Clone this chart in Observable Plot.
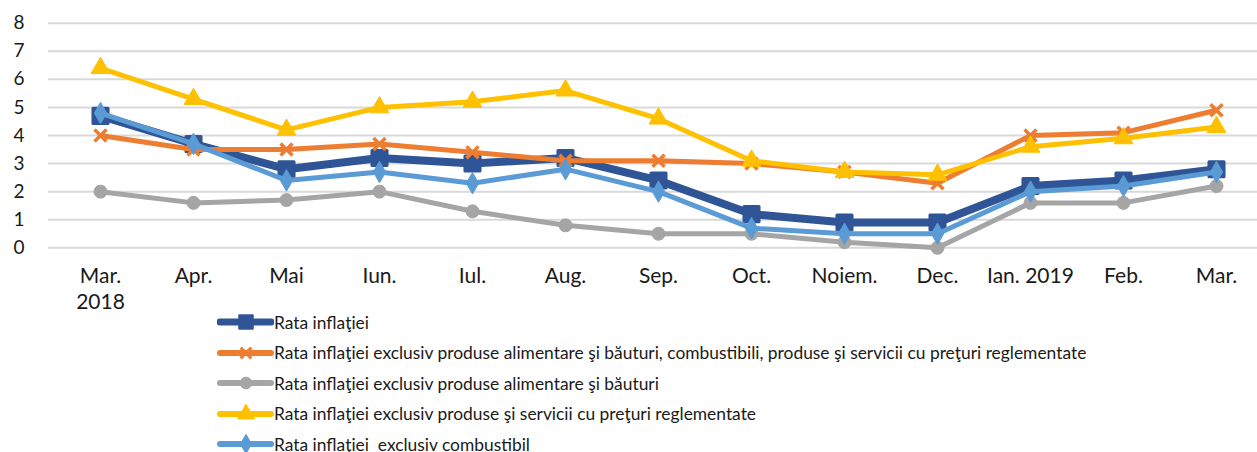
<!DOCTYPE html>
<html><head><meta charset="utf-8">
<script src="https://cdn.jsdelivr.net/npm/d3@7"></script>
<script src="https://cdn.jsdelivr.net/npm/@observablehq/plot@0.6"></script>
<style>
body{margin:0;background:#fff;font-family:Lato, sans-serif;overflow:hidden}
#chart svg{display:block}
#legend{margin-left:217px;margin-top:-8.25px;position:relative}
.row{display:flex;align-items:center;height:30.5px;font-size:17.4px;color:#1a1a1a;white-space:pre}
.row svg{width:57px;height:20px;flex:none}
</style></head><body><div id="chart"></div><div id="legend"></div>
<script>
const monthKeys = ["2018-03","2018-04","2018-05","2018-06","2018-07","2018-08","2018-09","2018-10","2018-11","2018-12","2019-01","2019-02","2019-03"];
const tickLabels = ["Mar.\n2018","Apr.","Mai","Iun.","Iul.","Aug.","Sep.","Oct.","Noiem.","Dec.","Ian. 2019","Feb.","Mar."];
const yTicks = [0,1,2,3,4,5,6,7,8];
const seriesNames = [
  "Rata inflaţiei",
  "Rata inflaţiei exclusiv produse alimentare şi băuturi, combustibili, produse şi servicii cu preţuri reglementate",
  "Rata inflaţiei exclusiv produse alimentare şi băuturi",
  "Rata inflaţiei exclusiv produse şi servicii cu preţuri reglementate",
  "Rata inflaţiei  exclusiv combustibil"
];
const rata        = [4.7,3.7,2.8,3.2,3.0,3.2,2.4,1.2,0.9,0.9,2.2,2.4,2.8];
const exclCore    = [4.0,3.5,3.5,3.7,3.4,3.1,3.1,3.0,2.7,2.3,4.0,4.1,4.9];
const exclFood    = [2.0,1.6,1.7,2.0,1.3,0.8,0.5,0.5,0.2,0.0,1.6,1.6,2.2];
const exclReg     = [6.4,5.3,4.2,5.0,5.2,5.6,4.6,3.1,2.7,2.6,3.6,3.9,4.3];
const exclFuel    = [4.8,3.7,2.4,2.7,2.3,2.8,2.0,0.7,0.5,0.5,2.0,2.2,2.7];

const seriesValues = [rata, exclCore, exclFood, exclReg, exclFuel];
const colors = ["#2F5597","#ED7D31","#A5A5A5","#FFC000","#5B9BD5"];
const symbols = ["square","times","circle","triangle","diamond"];
const lineWidths = [8,5,5,5,5];
const markerR = [8.5,5.5,6.5,7,6.5];

const marks = [Plot.ruleY(yTicks, {stroke:"#d9d9d9", strokeWidth:2})];
seriesValues.forEach((vals, i) => {
  const data = vals.map((v, j) => ({month: monthKeys[j], value: v}));
  marks.push(Plot.line(data, {x:"month", y:"value", stroke: colors[i], strokeWidth: lineWidths[i], strokeLinejoin:"round"}));
  const strokeOnly = symbols[i] === "times";
  marks.push(Plot.dot(data, {x:"month", y:"value", symbol: symbols[i], r: markerR[i],
    fill: strokeOnly ? "none" : colors[i], stroke: colors[i], strokeWidth: strokeOnly ? 3.5 : (i===0 ? 3 : 1), strokeLinejoin:"round"}));
});
marks.push(Plot.axisY({ticks: yTicks, tickSize:0, tickPadding:24, fontSize:19, label: null, tickFormat: d => String(d)}));
marks.push(Plot.axisX({tickSize:0, tickPadding:17, fontSize:21, lineHeight:1.24, label: null,
  tickFormat: d => tickLabels[monthKeys.indexOf(d)]}));

const chart = Plot.plot({
  width: 1257, height: 315,
  marginLeft: 48, marginRight: 0, marginTop: 22.7, marginBottom: 67.7,
  style: {fontFamily: "Lato, sans-serif", color: "#1a1a1a", background: "#fff", overflow: "visible"},
  x: {type: "point", domain: monthKeys, padding: 0.448, align: 0.56, label: null},
  y: {domain: [0, 8], label: null},
  marks
});
document.getElementById("chart").appendChild(chart);

const legend = document.getElementById("legend");
seriesNames.forEach((name, i) => {
  const row = document.createElement("div");
  row.className = "row";
  const ns = "http://www.w3.org/2000/svg";
  const svg = document.createElementNS(ns, "svg");
  svg.setAttribute("viewBox", "0 0 57 20");
  const line = document.createElementNS(ns, "line");
  line.setAttribute("x1", 3); line.setAttribute("x2", 54);
  line.setAttribute("y1", 10); line.setAttribute("y2", 10);
  line.setAttribute("stroke", colors[i]);
  line.setAttribute("stroke-width", i === 0 ? 7 : 6);
  line.setAttribute("stroke-linecap", "round");
  svg.appendChild(line);
  const sym = {square:d3.symbolSquare, times:d3.symbolTimes, circle:d3.symbolCircle, triangle:d3.symbolTriangle, diamond:d3.symbolDiamond}[symbols[i]];
  const p = document.createElementNS(ns, "path");
  const r = markerR[i] * 0.9;
  p.setAttribute("d", d3.symbol(sym, Math.PI * r * r)());
  p.setAttribute("transform", "translate(29,10)");
  if (symbols[i] === "times") { p.setAttribute("fill","none"); p.setAttribute("stroke", colors[i]); p.setAttribute("stroke-width", 3); }
  else { p.setAttribute("fill", colors[i]); p.setAttribute("stroke", colors[i]); p.setAttribute("stroke-linejoin","round"); p.setAttribute("stroke-width", i===0?2:1); }
  svg.appendChild(p);
  row.appendChild(svg);
  const span = document.createElement("span");
  span.textContent = name;
  row.appendChild(span);
  legend.appendChild(row);
});
</script></body></html>
